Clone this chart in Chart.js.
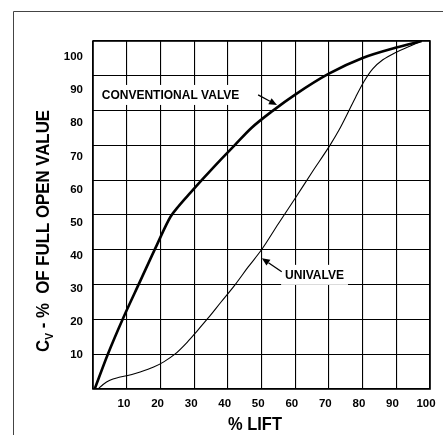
<!DOCTYPE html>
<html><head><meta charset="utf-8">
<script src="https://cdn.jsdelivr.net/npm/chart.js@4.4.0/dist/chart.umd.min.js"></script>
<style>html,body{margin:0;padding:0;background:#fff}canvas{display:block}</style>
</head><body>
<canvas id="c" width="443" height="435"></canvas>
<script>
// ---- data ----
const conventionalLift = [0.5, 4.4, 9, 14, 19, 23, 25.2, 29, 33, 37.5, 42, 47, 53.4, 60, 70, 80, 90, 97.5];
const conventionalCv   = [0, 10, 20.5, 31, 41.5, 49.5, 52.3, 56.5, 60.8, 65.5, 70, 75, 80, 84.6, 90.6, 95.1, 98.1, 100];
const univalveLift = [1.5, 3, 5, 7.5, 10, 14, 18, 21, 24.3, 28, 31, 34, 38, 42.2, 46, 50, 55, 60, 65, 70.3, 73, 75.6, 78, 80.5, 83, 86, 90, 94, 97.5];
const univalveCv   = [0, 1.3, 2.5, 3.3, 3.8, 4.9, 6.3, 7.8, 10, 13.5, 16.8, 20.2, 25, 30, 35, 40, 47.5, 54.8, 62.3, 70, 74.4, 79.3, 84, 88.5, 92, 94.6, 96.8, 98.5, 100];
const liftTickLabels = [10, 20, 30, 40, 50, 60, 70, 80, 90, 100];
const cvTickLabels   = [10, 20, 30, 40, 50, 60, 70, 80, 90, 100];
const seriesNames = ['CONVENTIONAL VALVE', 'UNIVALVE'];
const xTitle = '% LIFT';
const yTitleMain = 'C', yTitleSub = 'V', yTitleRest = ' - %  OF FULL OPEN VALUE';
// annotation anchors in data units: text left/middle, arrow tail -> head
const labelLift  = [2.6, 57];
const labelCv    = [84.5, 32.8];
const arrowFromLift = [49, 56];
const arrowFromCv   = [84.5, 33.7];
const arrowToLift   = [54.6, 50.1];
const arrowToCv     = [81.6, 37.6];

const FONT = '"Liberation Sans", Arial, Helvetica, sans-serif';
const toPts = (xs, ys) => xs.map((v, i) => ({x: v, y: ys[i]}));

function arrow(ctx, x0, y0, x1, y1) {
  const ang = Math.atan2(y1 - y0, x1 - x0), L = 8, W = 3.5;
  const bx = x1 - L * Math.cos(ang), by = y1 - L * Math.sin(ang);
  ctx.beginPath(); ctx.moveTo(x0, y0); ctx.lineTo(bx, by);
  ctx.lineWidth = 1.3; ctx.strokeStyle = '#000'; ctx.stroke();
  ctx.beginPath(); ctx.moveTo(x1, y1);
  ctx.lineTo(bx + W * Math.sin(ang), by - W * Math.cos(ang));
  ctx.lineTo(bx - W * Math.sin(ang), by + W * Math.cos(ang));
  ctx.closePath(); ctx.fillStyle = '#000'; ctx.fill();
}

const deco = {
  id: 'deco',
  beforeDraw(chart) {
    const ctx = chart.ctx; ctx.save(); ctx.fillStyle = '#fff';
    ctx.fillRect(0, 0, chart.width, chart.height); ctx.restore();
  },
  afterDatasetsDraw(chart) {
    const {ctx, chartArea: a, scales: {x, y}} = chart;
    ctx.save();
    ctx.strokeStyle = '#000'; ctx.lineWidth = 1.6;
    ctx.strokeRect(a.left, a.top, a.right - a.left, a.bottom - a.top);
    ctx.font = `bold 12px ${FONT}`;
    ctx.textBaseline = 'middle';
    seriesNames.forEach((t, i) => {
      const tx = x.getPixelForValue(labelLift[i]), ty = y.getPixelForValue(labelCv[i]);
      const w = ctx.measureText(t).width;
      ctx.fillStyle = '#fff'; ctx.fillRect(tx - 4, ty - 10, w + 8, 20);
      ctx.fillStyle = '#000'; ctx.fillText(t, tx, ty + 0.5);
      arrow(ctx, x.getPixelForValue(arrowFromLift[i]), y.getPixelForValue(arrowFromCv[i]),
                 x.getPixelForValue(arrowToLift[i]), y.getPixelForValue(arrowToCv[i]));
    });
    ctx.restore();
  },
  afterDraw(chart) {
    const ctx = chart.ctx;
    ctx.save();
    // outer frame
    ctx.strokeStyle = '#444'; ctx.lineWidth = 1;
    ctx.beginPath(); ctx.moveTo(13.5, chart.height); ctx.lineTo(13.5, 11.5); ctx.lineTo(chart.width, 11.5); ctx.stroke();
    ctx.fillStyle = '#000';
    // y title
    ctx.translate(42, 231); ctx.rotate(-Math.PI / 2);
    ctx.font = `bold 18px ${FONT}`;
    const wC = ctx.measureText(yTitleMain).width, wR = ctx.measureText(yTitleRest).width;
    ctx.font = `bold 11px ${FONT}`;
    const wS = ctx.measureText(yTitleSub).width;
    const total = wC + wS + wR;
    ctx.scale(242 / total, 1);
    let x0 = -total / 2;
    ctx.textBaseline = 'alphabetic';
    ctx.font = `bold 18px ${FONT}`; ctx.fillText(yTitleMain, x0, 6.5);
    ctx.font = `bold 11px ${FONT}`; ctx.fillText(yTitleSub, x0 + wC, 10.5);
    ctx.font = `bold 18px ${FONT}`; ctx.fillText(yTitleRest, x0 + wC + wS, 6.5);
    ctx.restore();
    // x title
    ctx.save();
    ctx.font = `bold 18px ${FONT}`; ctx.fillStyle = '#000'; ctx.textBaseline = 'alphabetic';
    const w = ctx.measureText(xTitle).width;
    ctx.translate(255, 429.5); ctx.scale(54 / w, 1);
    ctx.fillText(xTitle, -w / 2, 0);
    ctx.restore();
  }
};

const tickFont = {family: FONT, size: 11.5, weight: 'bold'};
const gridOpt = {color: '#000', lineWidth: 1.1, drawTicks: false};

new Chart(document.getElementById('c'), {
  type: 'scatter',
  data: {
    datasets: [
      {label: seriesNames[0], data: toPts(conventionalLift, conventionalCv), showLine: true,
       borderColor: '#000', borderWidth: 2.6, pointRadius: 0, cubicInterpolationMode: 'monotone', fill: false},
      {label: seriesNames[1], data: toPts(univalveLift, univalveCv), showLine: true,
       borderColor: '#000', borderWidth: 1.1, pointRadius: 0, cubicInterpolationMode: 'monotone', fill: false}
    ]
  },
  options: {
    responsive: false, animation: false, devicePixelRatio: 1,
    layout: {padding: {left: 0, right: 13, top: 41, bottom: 0}},
    plugins: {legend: {display: false}, tooltip: {enabled: false}},
    scales: {
      x: {type: 'linear', position: 'bottom', min: 0, max: 100, ticks: {display: false, stepSize: 10},
          grid: gridOpt, border: {display: false}, afterFit(s) { s.height = 0; }},
      y: {type: 'linear', position: 'left', min: 0, max: 100, ticks: {display: false, stepSize: 10},
          grid: gridOpt, border: {display: false}, afterFit(s) { s.width = 0; }},
      xLabels: {type: 'linear', position: 'bottom', min: 0.76, max: 101.18,
          grid: {display: false}, border: {display: false},
          ticks: {font: tickFont, color: '#000', padding: 0, maxRotation: 0, autoSkip: false},
          afterBuildTicks(s) { s.ticks = liftTickLabels.map(v => ({value: v})); },
          afterFit(s) { s.height = 46; }},
      yLabels: {type: 'linear', position: 'left', min: -0.27, max: 104.86,
          grid: {display: false}, border: {display: false},
          ticks: {font: tickFont, color: '#000', padding: 2, autoSkip: false},
          afterBuildTicks(s) { s.ticks = cvTickLabels.map(v => ({value: v})); },
          afterFit(s) { s.width = 93; }}
    }
  },
  plugins: [deco]
});
</script>
</body></html>
